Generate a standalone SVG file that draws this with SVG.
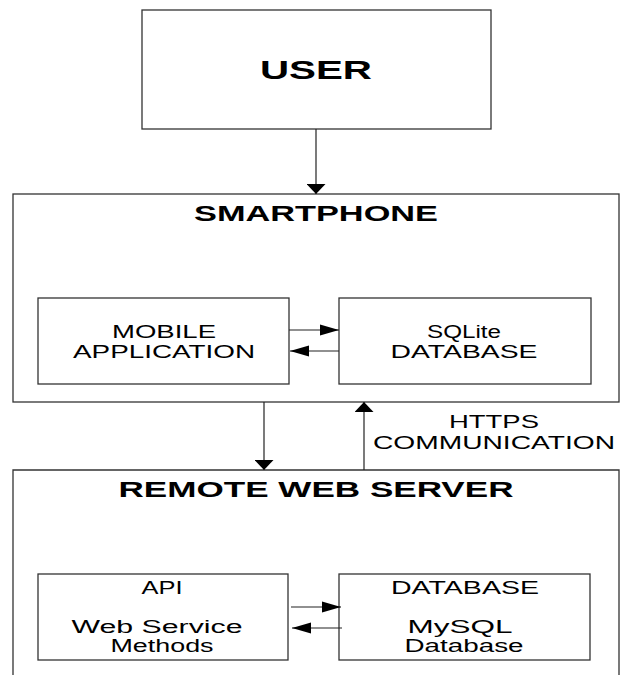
<svg xmlns="http://www.w3.org/2000/svg" width="621" height="675" viewBox="0 0 621 675">
<style>
.box{fill:#fff;stroke:#333;stroke-width:1.3}
.ln{fill:none;stroke:#222;stroke-width:1.2}
.t{font-family:"Liberation Sans",Arial,sans-serif;fill:#000;text-anchor:middle;font-size:17.5px}
.b{font-weight:bold}
</style>
<defs>
<marker id="ah" markerUnits="userSpaceOnUse" markerWidth="20" markerHeight="12" refX="19" refY="6" orient="auto"><path d="M0,0.5 L19,6 L0,11.5 Z" fill="#000"/></marker>
<marker id="av" markerUnits="userSpaceOnUse" markerWidth="11" markerHeight="19" refX="10" refY="9.5" orient="auto"><path d="M0,0 L10,9.5 L0,19 Z" fill="#000"/></marker>
</defs>
<rect width="621" height="675" fill="#fff"/>
<g id="user"><rect class="box" x="142" y="10" width="349" height="119"/><text class="t b" x="316" y="79" style="font-size:26px" textLength="112" lengthAdjust="spacingAndGlyphs">USER</text></g>
<g id="smartphone"><rect class="box" x="13" y="194" width="606" height="208"/><text class="t b" x="316" y="221" style="font-size:21.5px" textLength="244" lengthAdjust="spacingAndGlyphs">SMARTPHONE</text></g>
<g id="mobile"><rect class="box" x="38" y="298" width="251" height="86"/><text class="t" x="164" y="338" textLength="104" lengthAdjust="spacingAndGlyphs">MOBILE</text><text class="t" x="164" y="358" textLength="182" lengthAdjust="spacingAndGlyphs">APPLICATION</text></g>
<g id="sqlite"><rect class="box" x="339" y="298" width="252" height="86"/><text class="t" x="464" y="338" textLength="74" lengthAdjust="spacingAndGlyphs">SQLite</text><text class="t" x="464" y="358" textLength="147" lengthAdjust="spacingAndGlyphs">DATABASE</text></g>
<g id="remote"><path class="box" d="M13,676 V470 H619 V676"/><text class="t b" x="316" y="497" style="font-size:21.5px" textLength="395" lengthAdjust="spacingAndGlyphs">REMOTE WEB SERVER</text></g>
<g id="api"><rect class="box" x="38" y="574" width="250" height="86"/><text class="t" x="162" y="594" textLength="41" lengthAdjust="spacingAndGlyphs">API</text><text class="t" x="157" y="633" textLength="171" lengthAdjust="spacingAndGlyphs">Web Service</text><text class="t" x="162" y="652" textLength="103" lengthAdjust="spacingAndGlyphs">Methods</text></g>
<g id="database"><rect class="box" x="339" y="574" width="251" height="86"/><text class="t" x="465" y="594" textLength="148" lengthAdjust="spacingAndGlyphs">DATABASE</text><text class="t" x="460" y="633" textLength="105" lengthAdjust="spacingAndGlyphs">MySQL</text><text class="t" x="464" y="652" textLength="119" lengthAdjust="spacingAndGlyphs">Database</text></g>
<g id="https-label"><text class="t" x="494" y="428" textLength="90" lengthAdjust="spacingAndGlyphs">HTTPS</text><text class="t" x="494" y="449" textLength="242" lengthAdjust="spacingAndGlyphs">COMMUNICATION</text></g>
<g id="connectors">
<path class="ln" d="M316,129 V194" marker-end="url(#av)"/>
<path class="ln" d="M264,402 V470" marker-end="url(#av)"/>
<path class="ln" d="M364,470 V402" marker-end="url(#av)"/>
<path class="ln" d="M289,330 H339" marker-end="url(#ah)"/>
<path class="ln" d="M339,351 H290" marker-end="url(#ah)"/>
<path class="ln" d="M291,607 H341" marker-end="url(#ah)"/>
<path class="ln" d="M342,628 H292" marker-end="url(#ah)"/>
</g>
</svg>
